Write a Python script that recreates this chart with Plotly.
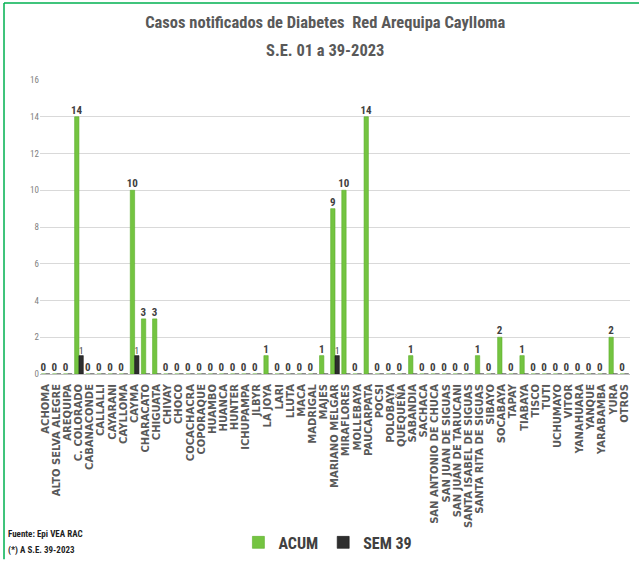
import plotly.graph_objects as go

categories = ["ACHOMA", "ALTO SELVA ALEGRE", "AREQUIPA", "C. COLORADO", "CABANACONDE",
              "CALLALLI", "CAYARANI", "CAYLLOMA", "CAYMA", "CHARACATO", "CHIGUATA",
              "CHIVAY", "CHOCO", "COCACHACRA", "COPORAQUE", "HUAMBO", "HUANCA", "HUNTER",
              "ICHUPAMPA", "JLBYR", "LA JOYA", "LARI", "LLUTA", "MACA", "MADRIGAL", "MAJES",
              "MARIANO MELGAR", "MIRAFLORES", "MOLLEBAYA", "PAUCARPATA", "POCSI", "POLOBAYA",
              "QUEQUEÑA", "SABANDIA", "SACHACA", "SAN ANTONIO DE CHUCA", "SAN JUAN DE SIGUAS",
              "SAN JUAN DE TARUCANI", "SANTA ISABEL DE SIGUAS", "SANTA RITA DE SIGUAS",
              "SIBAYO", "SOCABAYA", "TAPAY", "TIABAYA", "TISCO", "TUTI", "UCHUMAYO", "VITOR",
              "YANAHUARA", "YANQUE", "YARABAMBA", "YURA", "OTROS"]

acum = [0, 0, 0, 14, 0, 0, 0, 0, 10, 3, 3, 0, 0, 0, 0, 0, 0, 0, 0, 0, 1, 0, 0, 0, 0, 1,
        9, 10, 0, 14, 0, 0, 0, 1, 0, 0, 0, 0, 0, 1, 0, 2, 0, 1, 0, 0, 0, 0, 0, 0, 0, 2, 0]

sem39 = [0, 0, 0, 1, 0, 0, 0, 0, 1, 0, 0, 0, 0, 0, 0, 0, 0, 0, 0, 0, 0, 0, 0, 0, 0, 0,
         1, 0, 0, 0, 0, 0, 0, 0, 0, 0, 0, 0, 0, 0, 0, 0, 0, 0, 0, 0, 0, 0, 0, 0, 0, 0, 0]

y_ticks = [0, 2, 4, 6, 8, 10, 12, 14, 16]

NARROW = "Roboto Condensed, DejaVu Sans Condensed, Liberation Sans Narrow, Arial Narrow, sans-serif"

fig = go.Figure()
fig.add_trace(go.Bar(
    x=categories, y=acum, name="ACUM",
    marker=dict(color="#74C441", line=dict(color="#5DAE2C", width=0.6)),
    text=[str(v) for v in acum], textposition="outside", textangle=0,
    constraintext="none", cliponaxis=False,
    textfont=dict(family=NARROW, size=11, color="#404040", weight="bold"),
))
fig.add_trace(go.Bar(
    x=categories, y=sem39, name="SEM 39",
    marker=dict(color="#2E2E2E", line=dict(color="#1A1A1A", width=0.6)),
    text=[str(v) if v else "" for v in sem39], textposition="outside", textangle=0,
    constraintext="none", cliponaxis=False,
    textfont=dict(family=NARROW, size=9, color="#404040"),
))

fig.update_layout(
    width=639, height=568,
    margin=dict(l=40, r=9, t=80, b=188),
    paper_bgcolor="white", plot_bgcolor="white",
    barmode="group", bargap=0.22, bargroupgap=0.0,
    title=dict(
        text="Casos notificados de Diabetes  Red Arequipa Caylloma",
        x=0.509, xanchor="center", y=1 - 22 / 568, yanchor="middle",
        font=dict(family=NARROW, size=16.5, color="#595959", weight="bold"),
    ),
    xaxis=dict(
        type="category", tickangle=-90, showgrid=False,
        tickmode="array", tickvals=categories, ticktext=categories,
        showline=True, linecolor="#BFBFBF", linewidth=1,
        ticks="outside", ticklen=5, tickcolor="rgba(0,0,0,0)",
        tickfont=dict(family="DejaVu Sans", size=10, color="#595959", weight="bold"),
    ),
    yaxis=dict(
        range=[0, 16], tickvals=y_ticks, showgrid=True, gridcolor="#D9D9D9", gridwidth=1,
        zeroline=False, showline=False, ticks="",
        tickfont=dict(family=NARROW, size=9, color="#7F7F7F"),
    ),
    showlegend=True,
    legend=dict(
        orientation="h", x=0.488, xanchor="center", y=-0.573, yanchor="middle",
        font=dict(family=NARROW, size=16, color="#404040", weight="bold"),
        itemwidth=30, traceorder="normal",
    ),
    shapes=[
        dict(type="line", xref="paper", yref="paper", x0=-0.061, x1=1.02, y0=1.2617, y1=1.2617,
             line=dict(color="#00B050", width=1.5)),
        dict(type="line", xref="paper", yref="paper", x0=-0.061, x1=-0.061, y0=1.2617, y1=-0.63,
             line=dict(color="#00B050", width=1.5)),
    ],
    annotations=[
        dict(text="S.E. 01 a 39-2023", xref="paper", yref="paper", x=(325 - 40) / 590,
             y=(380 - 50) / 300, xanchor="center", yanchor="middle", showarrow=False,
             font=dict(family=NARROW, size=16.5, color="#595959", weight="bold")),
        dict(text="Fuente: Epi VEA RAC", xref="paper", yref="paper", x=-0.058, y=-0.543,
             xanchor="left", yanchor="middle", showarrow=False,
             font=dict(family=NARROW, size=9, color="#1F1F1F", weight="bold")),
        dict(text="(*) A S.E. 39-2023", xref="paper", yref="paper", x=-0.058, y=-0.6,
             xanchor="left", yanchor="middle", showarrow=False,
             font=dict(family=NARROW, size=9, color="#1F1F1F", weight="bold")),
    ],
)

fig.write_html("out.html", config={"displayModeBar": False},
               post_script="document.body.style.margin='0';document.body.style.padding='0';")
